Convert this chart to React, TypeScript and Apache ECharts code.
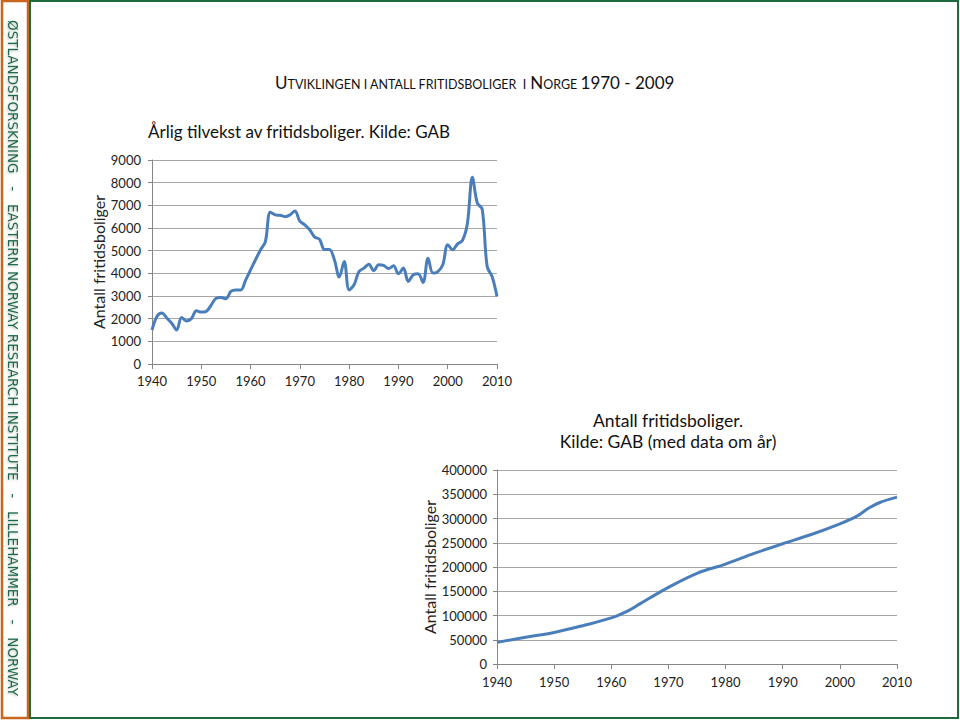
import React, { useEffect, useRef } from "react";
import * as echarts from "echarts";

// Annual growth (chart 1)
const annualYears: number[] = [
  1940, 1941, 1942, 1943, 1944, 1945, 1946, 1947, 1948, 1949,
  1950, 1951, 1952, 1953, 1954, 1955, 1956, 1957, 1958, 1959,
  1960, 1961, 1962, 1963, 1964, 1965, 1966, 1967, 1968, 1969,
  1970, 1971, 1972, 1973, 1974, 1975, 1976, 1977, 1978, 1979,
  1980, 1981, 1982, 1983, 1984, 1985, 1986, 1987, 1988, 1989,
  1990, 1991, 1992, 1993, 1994, 1995, 1996, 1997, 1998, 1999,
  2000, 2001, 2002, 2003, 2004, 2005, 2006, 2007, 2008, 2009, 2010,
];
const annualGrowth: number[] = [
  1500, 2100, 2250, 2030, 1800, 1500, 2050, 1900, 2000, 2350,
  2290, 2320, 2600, 2900, 2930, 2880, 3200, 3270, 3270, 3700,
  4150, 4600, 5030, 5400, 6700, 6580, 6560, 6500, 6580, 6750,
  6300, 6140, 5920, 5600, 5500, 5050, 5050, 4600, 3840, 4520,
  3270, 3500, 4080, 4230, 4400, 4110, 4380, 4350, 4210, 4330,
  3980, 4230, 3640, 3940, 3980, 3600, 4670, 4010, 4080, 4380,
  5260, 5040, 5300, 5450, 6210, 8240, 7100, 6830, 4300, 3860, 2980,
];

// Total stock (chart 2)
const stockYears: number[] = [
  1940, 1945, 1950, 1955, 1960, 1963, 1965, 1970, 1975, 1980,
  1985, 1990, 1995, 2000, 2003, 2005, 2007, 2010,
];
const stockValues: number[] = [
  44600, 55000, 65000, 79000, 95000, 110000, 124000, 158000, 187000, 206000,
  228000, 248000, 267000, 289000, 305000, 321000, 333000, 344000,
];

const FONT = "Lato, 'Noto Sans', sans-serif";
const LINE = "#4a7ebb";
const GRID = "#a6a6a6";
const AXIS = "#868686";
const plain = (v: number) => String(v);

function axisX(gridIndex: number, margin: number) {
  return {
    type: "value",
    gridIndex,
    min: 1940,
    max: 2010,
    interval: 10,
    axisLine: { show: true, lineStyle: { color: AXIS, width: 1 } },
    axisTick: { show: true, inside: false, length: 5, lineStyle: { color: AXIS } },
    splitLine: { show: false },
    axisLabel: { color: "#222", fontFamily: FONT, fontSize: 13, margin, formatter: plain },
  };
}

export default function App() {
  const ref = useRef<HTMLDivElement>(null);
  useEffect(() => {
    if (!ref.current) return;
    const chart = echarts.init(ref.current, null, { renderer: "svg" });
    const option: any = {
      animation: false,
      backgroundColor: "#ffffff",
      grid: [
        { left: 152, right: 463, top: 160, bottom: 356 },
        { left: 497, right: 63, top: 470, bottom: 56 },
      ],
      xAxis: [axisX(0, 10), axisX(1, 11)],
      yAxis: [
        {
          type: "value",
          gridIndex: 0,
          min: 0,
          max: 9000,
          interval: 1000,
          name: "Antall fritidsboliger",
          nameLocation: "middle",
          nameGap: 46,
          nameTextStyle: { fontFamily: FONT, fontSize: 16, color: "#222" },
          axisLine: { show: true, lineStyle: { color: AXIS, width: 1 } },
          axisTick: { show: true, inside: false, length: 4, lineStyle: { color: AXIS } },
          splitLine: { show: true, lineStyle: { color: GRID, width: 1 } },
          axisLabel: { color: "#222", fontFamily: FONT, fontSize: 13, margin: 11, formatter: plain },
        },
        {
          type: "value",
          gridIndex: 1,
          min: 0,
          max: 400000,
          interval: 50000,
          name: "Antall fritidsboliger",
          nameLocation: "middle",
          nameGap: 57,
          nameTextStyle: { fontFamily: FONT, fontSize: 16, color: "#222" },
          axisLine: { show: true, lineStyle: { color: AXIS, width: 1 } },
          axisTick: { show: true, inside: false, length: 4, lineStyle: { color: AXIS } },
          splitLine: { show: true, lineStyle: { color: GRID, width: 1 } },
          axisLabel: { color: "#222", fontFamily: FONT, fontSize: 13, margin: 10, formatter: plain },
        },
      ],
      series: [
        {
          type: "line",
          xAxisIndex: 0,
          yAxisIndex: 0,
          data: annualYears.map((y, i) => [y, annualGrowth[i]]),
          smooth: 0.35,
          showSymbol: false,
          lineStyle: { color: LINE, width: 3 },
        },
        {
          type: "line",
          xAxisIndex: 1,
          yAxisIndex: 1,
          data: stockYears.map((y, i) => [y, stockValues[i]]),
          smooth: 0.35,
          showSymbol: false,
          lineStyle: { color: LINE, width: 3 },
        },
      ],
      graphic: [
        {
          type: "rect",
          shape: { x: 2, y: 1, width: 26, height: 717 },
          style: { fill: "#fff", stroke: "#c8661e", lineWidth: 2.5 },
        },
        {
          type: "rect",
          shape: { x: 30, y: 1, width: 928, height: 717 },
          style: { fill: "none", stroke: "#1d6a3c", lineWidth: 2 },
        },
        {
          type: "text",
          x: 13,
          y: 358,
          rotation: -Math.PI / 2,
          style: {
            text:
              "ØSTLANDSFORSKNING   -   EASTERN NORWAY RESEARCH INSTITUTE   -   LILLEHAMMER   -   NORWAY",
            fill: "#1e6b48",
            font: "13.5px 'DejaVu Sans', sans-serif",
            align: "center",
            verticalAlign: "middle",
            textShadowColor: "rgba(0,0,0,0.25)",
            textShadowBlur: 2,
            textShadowOffsetX: 1,
            textShadowOffsetY: 1,
          },
        },
        {
          type: "text",
          x: 275,
          y: 91,
          style: {
            text:
              "{b|U}{s|TVIKLINGEN I ANTALL FRITIDSBOLIGER  I }{b|N}{s|ORGE }{b|1970 - 2009}",
            verticalAlign: "bottom",
            align: "left",
            rich: {
              b: { fontFamily: FONT, fontSize: 17, fill: "#111", verticalAlign: "bottom" },
              s: { fontFamily: FONT, fontSize: 12.5, fill: "#111", verticalAlign: "bottom" },
            },
          },
        },
        {
          type: "text",
          x: 148,
          y: 131,
          style: {
            text: "Årlig tilvekst av fritidsboliger. Kilde: GAB",
            font: `17px ${FONT}`,
            fill: "#111",
            align: "left",
            verticalAlign: "middle",
          },
        },
        {
          type: "text",
          x: 668,
          y: 431,
          style: {
            text: "Antall fritidsboliger.\nKilde: GAB (med data om år)",
            font: `17.5px ${FONT}`,
            lineHeight: 21,
            fill: "#111",
            align: "center",
            verticalAlign: "middle",
          },
        },
      ],
    };
    chart.setOption(option);
    return () => chart.dispose();
  }, []);
  return (
    <div
      ref={ref}
      style={{ position: "fixed", left: 0, top: 0, width: 960, height: 720 }}
    />
  );
}
